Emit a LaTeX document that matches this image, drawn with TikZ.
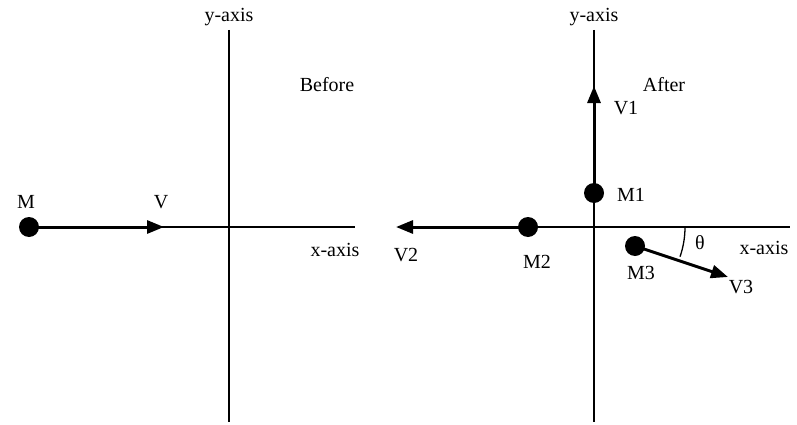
\documentclass[tikz,border=0pt]{standalone}
\usepackage{fontspec}
\setmainfont{Liberation Serif}
\usetikzlibrary{arrows.meta}
\tikzstyle{axis}=[line width=1.3pt]
\tikzstyle{mass}=[circle,fill=black,inner sep=0pt,minimum size=20pt]
\tikzstyle{vel}=[line width=3pt,-{Triangle[length=17pt,width=13pt]}]
\tikzstyle{lbl}=[font=\fontsize{20}{22}\selectfont,inner sep=0pt]

\begin{document}
\begin{tikzpicture}[x=1pt,y=1pt]
    \useasboundingbox (0,0) rectangle (797,424);
    % before
    \coordinate (ytopA) at (229,394);
    \coordinate (ybotA) at (229,2);
    \coordinate (xleftA) at (30,197);
    \coordinate (xrightA) at (355,197);
    \draw[axis] (ytopA) -- (ybotA);
    \draw[axis] (xleftA) -- (xrightA);
    \node[lbl] (yaxisA) at (229,407) {y-axis};
    \node[lbl] (xaxisA) at (335,174) {x-axis};
    \node[lbl] (before) at (327,339) {Before};
    \node[mass] (m) at (29,197) {};
    \coordinate (vtip) at (164,197);
    \draw[vel] (m.center) -- (vtip);
    \node[lbl] (mlbl) at (26,222) {M};
    \node[lbl] (vlbl) at (161,222) {V};
    % after
    \coordinate (ytopB) at (594,394);
    \coordinate (ybotB) at (594,2);
    \coordinate (xleftB) at (400,197);
    \coordinate (xrightB) at (790,197);
    \coordinate (orig) at (594,197);
    \draw[axis] (ytopB) -- (ybotB);
    \draw[axis] (xleftB) -- (xrightB);
    \node[lbl] (yaxisB) at (594,407) {y-axis};
    \node[lbl] (xaxisB) at (764,176) {x-axis};
    \node[lbl] (after) at (664,339) {After};
    \node[mass] (m1) at (594,231) {};
    \node[mass] (m2) at (528,197) {};
    \node[mass] (m3) at (635,178) {};
    \coordinate (v1tip) at (594,338);
    \coordinate (v2tip) at (396,197);
    \coordinate (v3tip) at (728,147);
    \draw[vel] (m1.center) -- (v1tip);
    \draw[vel] (m2.center) -- (v2tip);
    \draw[vel] (m3.center) -- (v3tip);
    \node[lbl] (m1lbl) at (631,229) {M1};
    \node[lbl] (v1lbl) at (626,316) {V1};
    \node[lbl] (m2lbl) at (537,162) {M2};
    \node[lbl] (v2lbl) at (406,169) {V2};
    \node[lbl] (m3lbl) at (641,151) {M3};
    \node[lbl] (v3lbl) at (741,137) {V3};
    \draw[axis] ([shift={(0:91)}]orig) arc (0:-19:91);
    \node[lbl] (theta) at (700,181) {θ};
\end{tikzpicture}
\end{document}
